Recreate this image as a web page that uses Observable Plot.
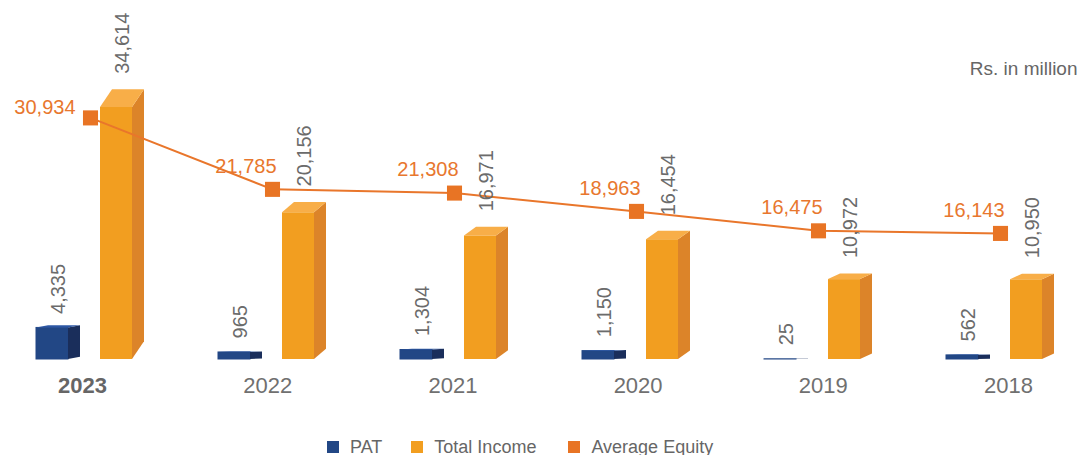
<!DOCTYPE html>
<html><head><meta charset="utf-8">
<script src="https://cdn.jsdelivr.net/npm/d3@7"></script>
<script src="https://cdn.jsdelivr.net/npm/@observablehq/plot@0.6"></script>
<style>
html,body{margin:0;padding:0;background:#fff;overflow:hidden;width:1082px;height:455px;}
body{font-family:"Liberation Sans",Arial,Helvetica,sans-serif;}
#legend{height:22px;display:flex;align-items:center;padding-left:327px;font-size:18px;color:#666;}
.item{display:flex;align-items:center;margin-right:29px;white-space:nowrap}
.sw{width:12px;height:12px;margin-right:11px}
</style></head><body>
<div id="chart"></div>
<div id="legend"></div>
<script>
// ---- data ----
const years = ["2023", "2022", "2021", "2020", "2019", "2018"];
const pat = [4335, 965, 1304, 1150, 25, 562];
const totalIncome = [34614, 20156, 16971, 16454, 10972, 10950];
const avgEquity = [30934, 21785, 21308, 18963, 16475, 16143];
const unitLabel = "Rs. in million";
const seriesNames = ["PAT", "Total Income", "Average Equity"];

// ---- layout / style ----
const W = 1082, H = 436, baseY = 359;
const groupStep = 182, firstCenter = 90;
const pxX = 1 / groupStep;
const barPxPerUnit = 0.00728;   // primary (bars) axis
const linePxPerUnit = 0.00781;  // secondary (line) axis
const ky = 1 / barPxPerUnit;
const lineFactor = linePxPerUnit / barPxPerUnit;
const depthX = 12;
const colors = {
  PAT: {front: "#224785", side: "#1A2E5B", top: "#2D57A4"},
  TI: {front: "#F29E20", side: "#DC8429", top: "#F8AE48"},
  line: "#E9762B", marker: "#E87424", label: "#E8772E"
};
const grey = "#6b6b6b";
const fmt = d3.format(",");

const bars = [];
years.forEach((yr, i) => {
  bars.push({series: "PAT", i, value: pat[i], x1: i - 54 * pxX, x2: i - 22 * pxX});
  bars.push({series: "TI", i, value: totalIncome[i], x1: i + 10 * pxX, x2: i + 42 * pxX});
});
bars.forEach((b, k) => { b.id = k; b.dy = 0.07 * b.value * barPxPerUnit; });

const sides = bars.flatMap(b => [
  {series: b.series, z: b.id, x: b.x2, y1: 0, y2: b.value},
  {series: b.series, z: b.id, x: b.x2 + depthX * pxX, y1: b.dy * ky, y2: b.value + b.dy * ky}
]);
const tops = bars.flatMap(b => [
  {series: b.series, z: b.id, y: b.value, x1: b.x1, x2: b.x2},
  {series: b.series, z: b.id, y: b.value + b.dy * ky, x1: b.x1 + depthX * pxX, x2: b.x2 + depthX * pxX}
]);
const eq = years.map((yr, i) => ({i, value: avgEquity[i]}));
const yearRows = years.map((yr, i) => ({i, yr, x: i + (-8 + 3.2 * i) * pxX}));

const faceMarks = [];
for (const s of ["PAT", "TI"]) {
  faceMarks.push(Plot.rect(bars.filter(b => b.series === s), {
    x1: "x1", x2: "x2", y1: 0, y2: "value", fill: colors[s].front,
    stroke: s === "PAT" ? colors[s].front : "none", strokeWidth: s === "PAT" ? 1 : 0
  }));
  faceMarks.push(Plot.areaY(sides.filter(d => d.series === s), {x: "x", y1: "y1", y2: "y2", z: "z", fill: colors[s].side}));
  faceMarks.push(Plot.areaX(tops.filter(d => d.series === s), {y: "y", x1: "x1", x2: "x2", z: "z", fill: colors[s].top}));
}

const chart = Plot.plot({
  width: W, height: H,
  marginLeft: 0, marginRight: 0, marginTop: 0, marginBottom: H - baseY,
  x: {type: "linear", domain: [-firstCenter * pxX, (W - firstCenter) * pxX], axis: null},
  y: {domain: [0, baseY / barPxPerUnit], axis: null},
  style: {fontFamily: '"Liberation Sans", Arial, Helvetica, sans-serif', background: "#fff", overflow: "visible"},
  marks: [
    ...faceMarks,
    Plot.line(eq, {x: "i", y: d => d.value * lineFactor, stroke: colors.line, strokeWidth: 2}),
    Plot.dot(eq, {x: "i", y: d => d.value * lineFactor, symbol: "square", r: 8.5, fill: colors.marker, stroke: "none"}),
    // value labels, rotated
    Plot.text(bars.filter(b => b.series === "PAT"), {
      x: b => b.x1 + 22 * pxX, y: "value", text: b => fmt(b.value), rotate: -90,
      textAnchor: "start", dy: -14, fontSize: 20, fill: grey
    }),
    Plot.text(bars.filter(b => b.series === "TI"), {
      x: b => b.x1 + 22 * pxX, y: b => b.value + (b.dy + 16) * ky, text: b => fmt(b.value), rotate: -90,
      textAnchor: "start", fontSize: 20, fill: grey
    }),
    // equity labels
    Plot.text(eq.filter(d => d.i === 0), {
      x: "i", y: d => d.value * lineFactor, text: d => fmt(d.value),
      textAnchor: "end", dx: -15, dy: -10, fontSize: 20, fill: colors.label
    }),
    Plot.text(eq.filter(d => d.i > 0), {
      x: "i", y: d => d.value * lineFactor, text: d => fmt(d.value),
      textAnchor: "end", dx: 4, dy: -23, fontSize: 20, fill: colors.label
    }),
    // year labels
    Plot.text(yearRows.filter(d => d.i === 0), {x: "x", y: 0, text: "yr", dy: 26.5, fontSize: 22, fontWeight: "bold", fill: "#666"}),
    Plot.text(yearRows.filter(d => d.i > 0), {x: "x", y: 0, text: "yr", dy: 26.5, fontSize: 22, fill: "#707070"}),
    Plot.text([unitLabel], {frameAnchor: "top-right", dx: -5, dy: 61, fontSize: 19, fill: "#666"})
  ]
});
document.getElementById("chart").append(chart);

// legend
const legendColors = [colors.PAT.front, colors.TI.front, colors.marker];
const lg = document.getElementById("legend");
seriesNames.forEach((n, k) => {
  const it = document.createElement("div");
  it.className = "item";
  if (k === 1) it.style.marginRight = "32px";
  it.innerHTML = `<span class="sw" style="background:${legendColors[k]}"></span><span>${n}</span>`;
  lg.append(it);
});
</script>
</body></html>
